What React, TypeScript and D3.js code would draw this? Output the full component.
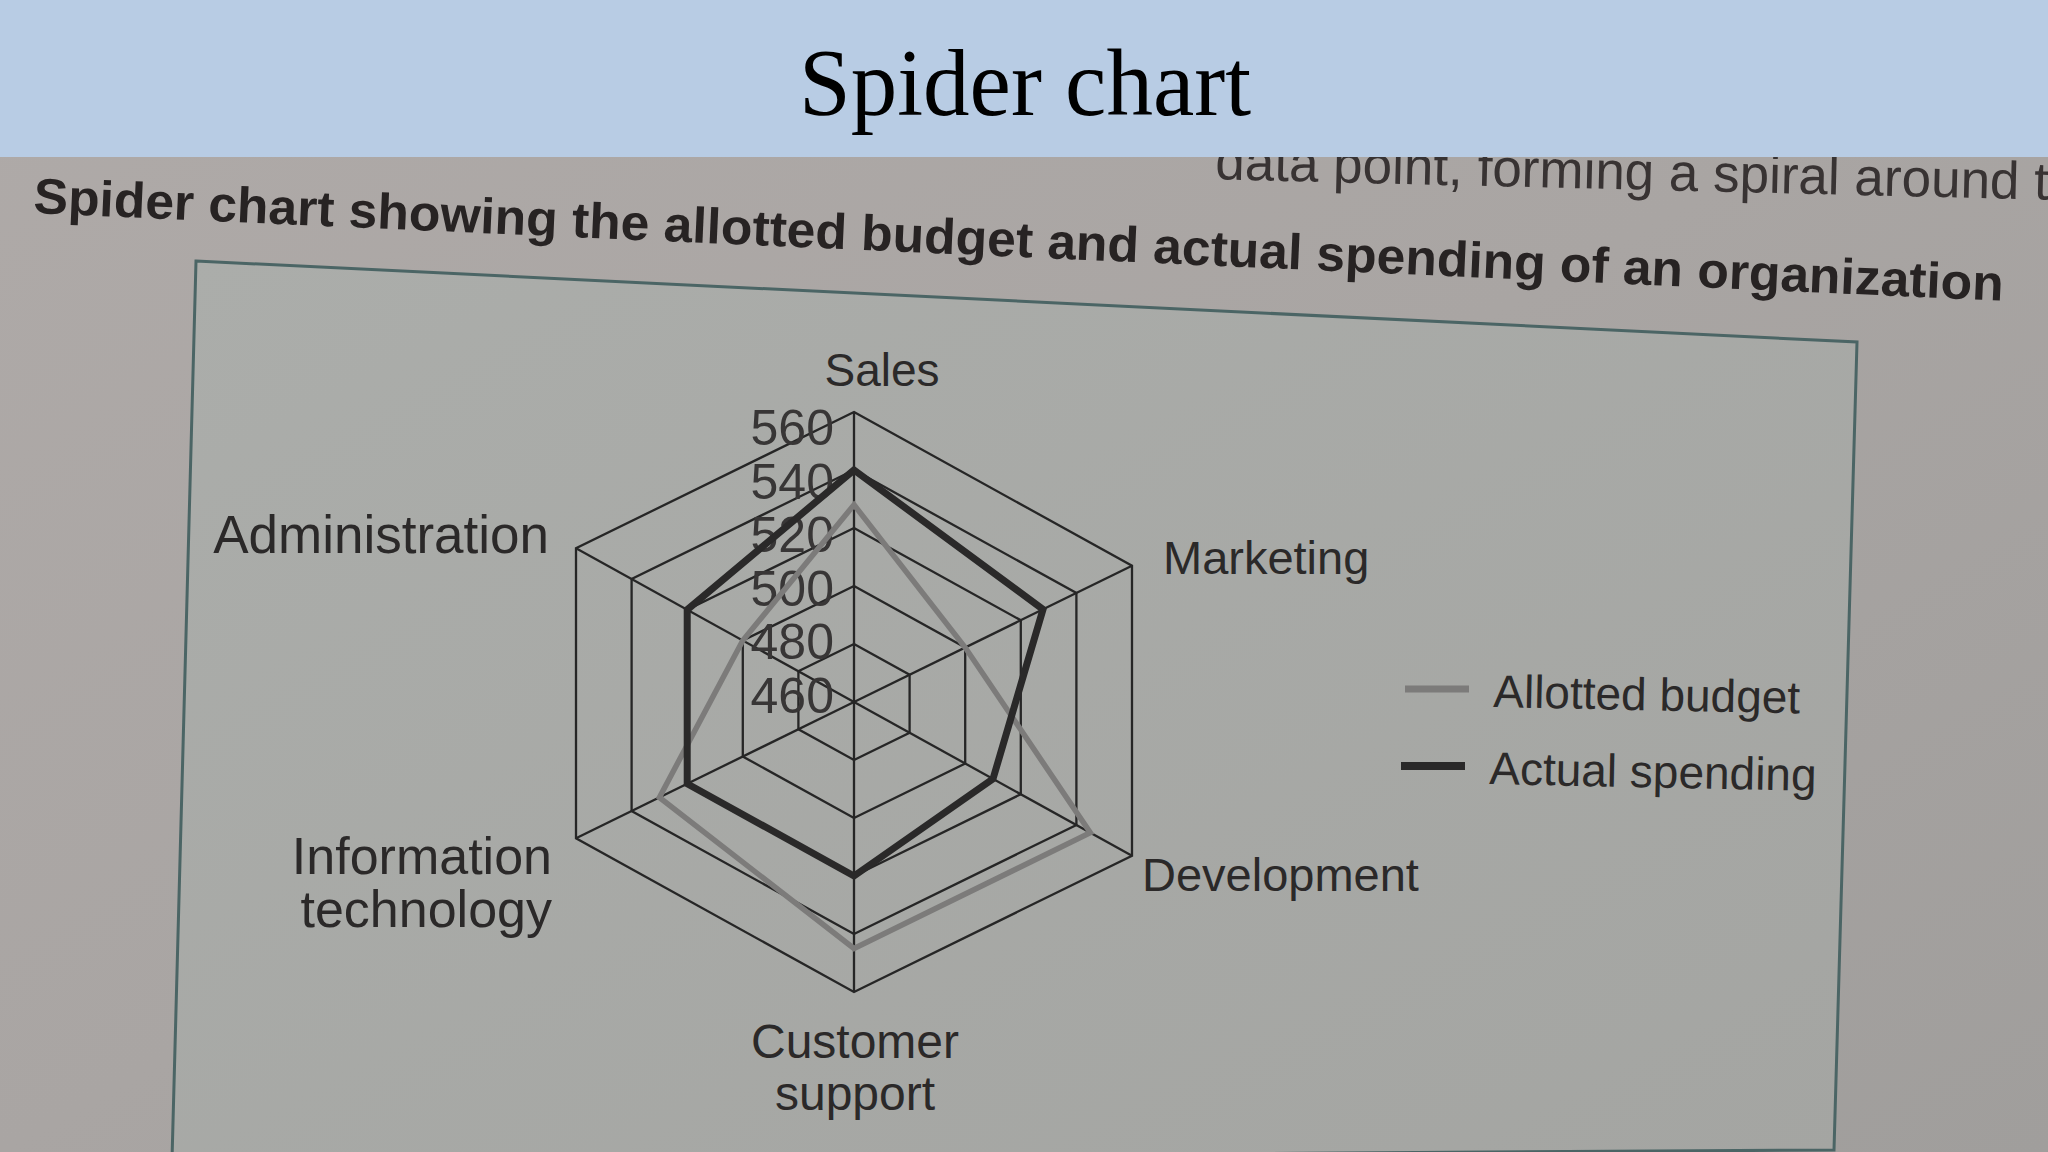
import * as d3 from "d3";

// ---- data ----
const categories = ["Sales", "Marketing", "Development", "Customer support", "Information technology", "Administration"];
const allottedBudget = [528, 500, 545, 545, 530, 500];
const actualSpending = [540, 528, 510, 520, 520, 520];
const tickValues = [460, 480, 500, 520, 540, 560];
const seriesNames = ["Allotted budget", "Actual spending"];

const W = 2048;
const H = 1152;

// spider geometry (photo is slightly stretched / sheared)
const cx = 854;
const cy = 702;
const rX = 321;
const rY = 290;
const shear = Math.tan((1.8 * Math.PI) / 180);

const rScale = d3.scaleLinear().domain([460, 560]).range([0, 1]);

const project = (t: number, i: number): [number, number] => {
  const a = (i * Math.PI * 2) / categories.length;
  const lx = rX * t * Math.sin(a);
  const ly = -rY * t * Math.cos(a);
  return [cx + lx, cy + ly + lx * shear];
};

const closedLine = d3.line<[number, number]>().curve(d3.curveLinearClosed);

// label placement relative to the outer vertex of each axis
const labelLayout: Record<string, { dx: number; dy: number; anchor: string; size: number; lines: string[]; lh: number }> = {
  "Sales": { dx: 28, dy: -26, anchor: "middle", size: 46, lines: ["Sales"], lh: 0 },
  "Marketing": { dx: 31, dy: 8, anchor: "start", size: 47, lines: ["Marketing"], lh: 0 },
  "Development": { dx: 10, dy: 35, anchor: "start", size: 47, lines: ["Development"], lh: 0 },
  "Customer support": { dx: 1, dy: 66, anchor: "middle", size: 48, lines: ["Customer", "support"], lh: 52 },
  "Information technology": { dx: -24, dy: 36, anchor: "end", size: 52, lines: ["Information", "technology"], lh: 53 },
  "Administration": { dx: -27, dy: 5, anchor: "end", size: 53, lines: ["Administration"], lh: 0 },
};

const sans = "'Liberation Sans', Arial, Helvetica, sans-serif";
const ink = "#2b2929";
const gridColor = "#262626";
const allottedColor = "#7c7b7a";
const actualColor = "#2a2929";

export default function App() {
  const rings = tickValues.filter((v) => v > 460);
  const outer = categories.map((_, i) => project(1, i));

  const allottedPts = allottedBudget.map((v, i) => project(rScale(v), i));
  const actualPts = actualSpending.map((v, i) => project(rScale(v), i));

  return (
    <div style={{ position: "absolute", left: 0, top: 0 }}>
      <svg width={W} height={H} style={{ display: "block" }}>
        <defs>
          <linearGradient id="paper" x1="0" y1="0" x2="1" y2="1">
            <stop offset="0" stopColor="#afaaa8" />
            <stop offset="0.5" stopColor="#a9a5a3" />
            <stop offset="1" stopColor="#a09e9c" />
          </linearGradient>
          <linearGradient id="box" x1="0" y1="0" x2="1" y2="1">
            <stop offset="0" stopColor="#abadaa" />
            <stop offset="1" stopColor="#a4a5a2" />
          </linearGradient>
        </defs>

        {/* page of the book */}
        <rect x={0} y={0} width={W} height={H} fill="url(#paper)" />

        {/* tail of the previous text line, mostly hidden under the banner */}
        <text
          x={1215}
          y={182}
          fontFamily={sans}
          fontSize={53}
          fill="#383333"
          transform="rotate(1.4 1325 180)"
        >
          data point, forming a spiral around the
        </text>

        {/* figure caption */}
        <text
          x={33}
          y={213}
          fontFamily={sans}
          fontWeight="bold"
          fontSize={50}
          fill="#272323"
          textLength={1972}
          lengthAdjust="spacingAndGlyphs"
          transform="rotate(2.55 33 213)"
        >
          Spider chart showing the allotted budget and actual spending of an organization
        </text>

        {/* chart frame */}
        <polygon
          points="196,261 1857,342 1834,1150 172,1160"
          fill="url(#box)"
          stroke="#4b6565"
          strokeWidth={3}
        />

        {/* rings */}
        {rings.map((v) => (
          <path
            key={v}
            d={closedLine(categories.map((_, i) => project(rScale(v), i))) || ""}
            fill="none"
            stroke={gridColor}
            strokeWidth={2.3}
          />
        ))}

        {/* spokes */}
        {outer.map((p, i) => (
          <line key={i} x1={cx} y1={cy} x2={p[0]} y2={p[1]} stroke={gridColor} strokeWidth={2.3} />
        ))}

        {/* tick labels beside the Sales spoke */}
        {tickValues.map((v) => {
          const step = (560 - v) / 20;
          const y = project(rScale(v), 0)[1] + 16 - step * 4.4;
          return (
            <text
              key={v}
              x={834}
              y={y}
              textAnchor="end"
              dominantBaseline="central"
              fontFamily={sans}
              fontSize={50}
              fill="#383636"
            >
              {v}
            </text>
          );
        })}

        {/* series */}
        <path d={closedLine(allottedPts) || ""} fill="none" stroke={allottedColor} strokeWidth={5.5} strokeLinejoin="miter" />
        <path d={closedLine(actualPts) || ""} fill="none" stroke={actualColor} strokeWidth={7} strokeLinejoin="miter" />

        {/* category labels */}
        {categories.map((c, i) => {
          const L = labelLayout[c];
          const [px, py] = outer[i];
          return (
            <text
              key={c}
              x={px + L.dx}
              y={py + L.dy}
              textAnchor={L.anchor}
              fontFamily={sans}
              fontSize={L.size}
              fill={ink}
            >
              {L.lines.map((s, j) => (
                <tspan key={j} x={px + L.dx} dy={j === 0 ? 0 : L.lh}>
                  {s}
                </tspan>
              ))}
            </text>
          );
        })}

        {/* legend */}
        {seriesNames.map((s, i) => {
          const y = 689 + i * 77;
          const x0 = 1405 - i * 4;
          return (
            <g key={s}>
              <line
                x1={x0}
                x2={x0 + 64}
                y1={y}
                y2={y}
                stroke={i === 0 ? allottedColor : actualColor}
                strokeWidth={i === 0 ? 7 : 8}
              />
              <text
                x={x0 + 88}
                y={y + 18}
                fontFamily={sans}
                fontSize={46}
                fill={ink}
                transform={`rotate(1.2 ${x0 + 88} ${y + 18})`}
              >
                {s}
              </text>
            </g>
          );
        })}

        {/* slide banner */}
        <rect x={0} y={0} width={W} height={157} fill="#b8cce4" />
        <text
          x={799}
          y={115}
          fontFamily="'Liberation Serif', 'Times New Roman', serif"
          fontSize={96}
          fill="#000"
          textLength={452}
          lengthAdjust="spacingAndGlyphs"
        >
          Spider chart
        </text>
      </svg>
    </div>
  );
}
